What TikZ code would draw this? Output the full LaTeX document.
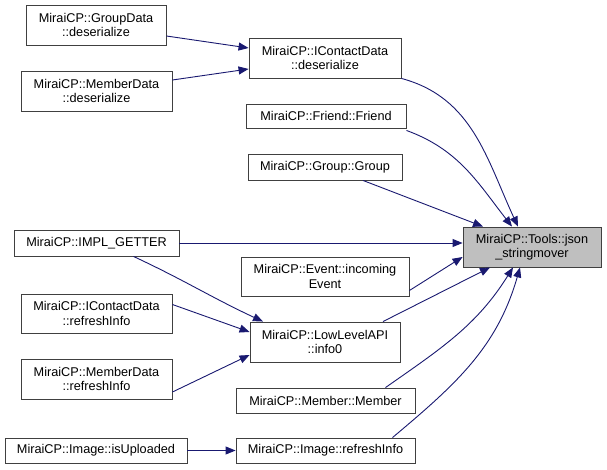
\documentclass[tikz,border=0pt]{standalone}
\usepackage{fontspec}
\setmainfont{Liberation Sans}
\usepackage{tikz}
\usetikzlibrary{shapes.geometric, arrows, arrows.meta, positioning}
\definecolor{edgeblue}{RGB}{25, 25, 112}
\definecolor{boxgray}{RGB}{191, 191, 191}
\definecolor{boxline}{RGB}{64, 64, 64}

\begin{document}
\begin{tikzpicture}[x=1pt, y=-1pt,
    fn/.style={draw=boxline, fill=white, line width=0.9pt, align=center, inner sep=0pt,
               font=\fontsize{12.7}{14.5}\selectfont},
    callee/.style={fn, fill=boxgray},
    edge/.style={draw=edgeblue, line width=0.9pt, -{Triangle[length=10pt,width=8pt]}}]
    \useasboundingbox (0,0) rectangle (607,470);

    % Function under inspection
    \node[callee, minimum width=138pt, minimum height=40pt] (json) at (532,247) {MiraiCP::Tools::json\\\_stringmover};

    % Direct callers
    \node[fn, minimum width=152pt, minimum height=40pt] (icdeser) at (325,58) {MiraiCP::IContactData\\::deserialize};
    \node[fn, minimum width=160pt, minimum height=24pt] (friend) at (326,116) {MiraiCP::Friend::Friend};
    \node[fn, minimum width=154pt, minimum height=26pt] (group) at (325,167) {MiraiCP::Group::Group};
    \node[fn, minimum width=165pt, minimum height=26pt] (implget) at (96.5,243) {MiraiCP::IMPL\_GETTER};
    \node[fn, minimum width=168pt, minimum height=39pt] (event) at (325,276.5) {MiraiCP::Event::incoming\\Event};
    \node[fn, minimum width=150pt, minimum height=40pt] (info0) at (325,342) {MiraiCP::LowLevelAPI\\::info0};
    \node[fn, minimum width=179pt, minimum height=25pt] (member) at (325.5,400.5) {MiraiCP::Member::Member};
    \node[fn, minimum width=179pt, minimum height=25pt] (imgref) at (325.5,450.5) {MiraiCP::Image::refreshInfo};

    % Second level callers
    \node[fn, minimum width=140pt, minimum height=40pt] (grpdeser) at (96,25) {MiraiCP::GroupData\\::deserialize};
    \node[fn, minimum width=151pt, minimum height=40pt] (memdeser) at (96.5,91) {MiraiCP::MemberData\\::deserialize};
    \node[fn, minimum width=151pt, minimum height=39pt] (icref) at (96.5,313.5) {MiraiCP::IContactData\\::refreshInfo};
    \node[fn, minimum width=151pt, minimum height=40pt] (memref) at (96.5,379) {MiraiCP::MemberData\\::refreshInfo};
    \node[fn, minimum width=182pt, minimum height=25pt] (isupl) at (96,450.5) {MiraiCP::Image::isUploaded};

    % Edges into json_stringmover
    \draw[edge] (icdeser.south east) to[out=-15, in=115] ([xshift=-14pt]json.north);
    \draw[edge] ([yshift=-2pt]friend.south east) to[out=-20, in=128] ([xshift=-20pt]json.north);
    \draw[edge] ([xshift=38pt]group.south) -- ([xshift=-49pt]json.north);
    \draw[edge] (implget.east) -- (implget.east -| json.west);
    \draw[edge] ([yshift=-14pt]event.east) -- ([yshift=-10pt]json.west);
    \draw[edge] ([xshift=58pt]info0.north) -- ([xshift=-42pt]json.south);
    \draw[edge] ([xshift=60pt]member.north) to[out=35, in=-122] ([xshift=-19pt]json.south);
    \draw[edge] ([xshift=67pt]imgref.north) to[out=40, in=-106] ([xshift=-12pt]json.south);

    % Edges into the direct callers
    \draw[edge] ([yshift=-11pt]grpdeser.east) -- ([yshift=10pt]icdeser.west);
    \draw[edge] ([yshift=11pt]memdeser.east) -- ([yshift=-11pt]icdeser.west);
    \draw[edge] ([xshift=37pt]implget.south) to[out=-25, in=155] ([xshift=-62pt]info0.north);
    \draw[edge] ([yshift=9pt]icref.east) -- ([yshift=10pt]info0.west);
    \draw[edge] ([yshift=-13pt]memref.east) -- ([yshift=-13pt]info0.west);
    \draw[edge] (isupl.east) -- (imgref.west);
\end{tikzpicture}
\end{document}
